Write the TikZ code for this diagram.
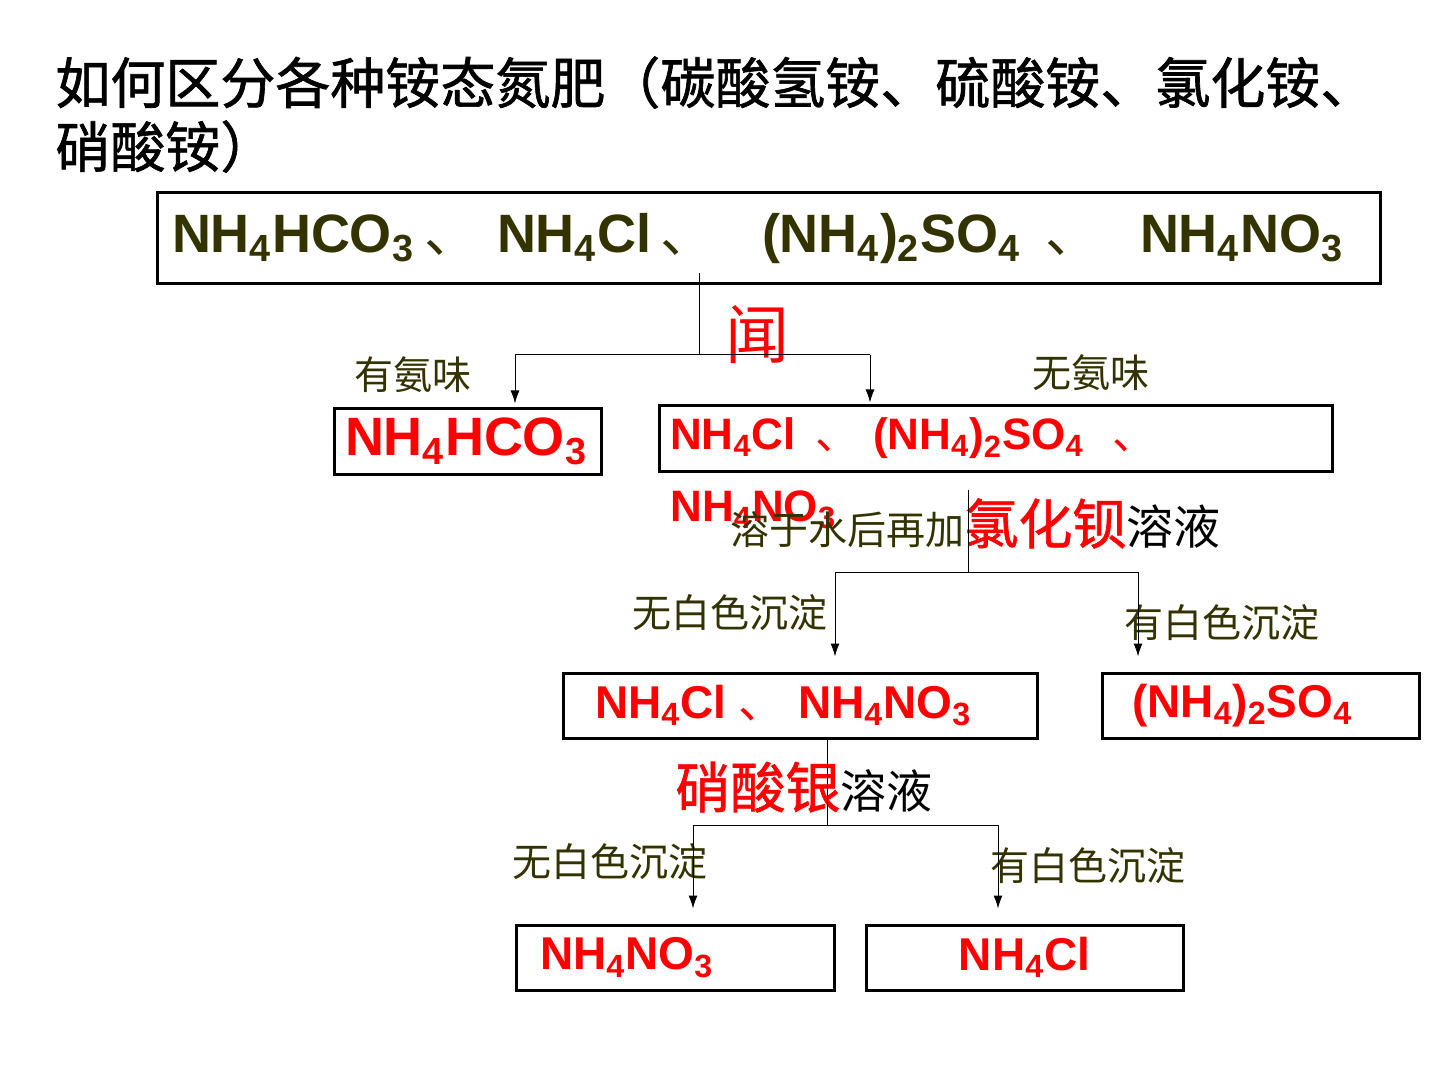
\documentclass[tikz,border=0pt]{standalone}
\usepackage{fontspec}
\setmainfont{Liberation Sans}
\newfontfamily\cjk{Noto Sans CJK SC}
\newfontfamily\cjkm[FakeBold=1.2]{Noto Sans CJK SC}
\usetikzlibrary{arrows.meta}
\definecolor{darkolive}{RGB}{51,51,0}
\newcommand{\nh}{NH\textsubscript{4}}
\newcommand{\dun}{{\cjk\mdseries 、}}
\newcommand{\fs}[1]{\fontsize{#1}{1.2\dimexpr #1pt\relax}\selectfont}
\tikzstyle{box}=[draw, rectangle, line width=1.5pt, inner ysep=0pt,
                 minimum height=32.5pt, align=left, text=red]
\tikzstyle{wire}=[line width=0.5pt]
\tikzstyle{arr}=[wire, -{Latex[length=6.5pt,width=4.5pt]}, shorten >=7.5pt]
\tikzstyle{tag}=[inner sep=0pt, text=darkolive, font=\cjk\fs{19.5}]

\begin{document}
\begin{tikzpicture}[x=0.5pt, y=-0.5pt]
  \useasboundingbox[fill=white] (0,0) rectangle (1440,1080);

  \node[anchor=north west, inner sep=0pt, align=left, font=\cjkm\fs{27.5}]
    (title) at (55,56)
    {如何区分各种铵态氮肥（碳酸氢铵、硫酸铵、氯化铵、\\[-1pt]硝酸铵）};

  \node[box, text=darkolive, font=\bfseries\fs{27}, minimum height=45.5pt,
        text width=596.5pt, inner xsep=7.5pt] (mix4) at (768.5,238.5)
    {\makebox[126pt][l]{\nh HCO\textsubscript{3}}\makebox[36.5pt][l]{\dun}%
     \makebox[81.5pt][l]{\nh Cl}\makebox[51pt][l]{\dun}%
     \makebox[141.5pt][l]{(\nh)\textsubscript{2}SO\textsubscript{4}}%
     \makebox[47.5pt][l]{\dun}\nh NO\textsubscript{3}};

  \node[box, font=\bfseries\fs{27}, text width=122.5pt, inner xsep=5.5pt]
    (hco3) at (467.5,441.5) {\nh HCO\textsubscript{3}};
  \node[box, font=\bfseries\fs{22}, text width=325.5pt, inner xsep=5.5pt]
    (mix3) at (995.5,438.5)
    {\makebox[72.5pt][l]{\nh Cl}\makebox[29pt][l]{\dun}%
     \makebox[119.5pt][l]{(\nh)\textsubscript{2}SO\textsubscript{4}}\dun};
  \node[anchor=west, inner sep=0pt, text=red, font=\bfseries\fs{22}]
    (mix3b) at (670,510) {\nh NO\textsubscript{3}};

  \node[box, font=\bfseries\fs{23}, text width=205pt, inner xsep=16pt]
    (mix2) at (800,705.5)
    {\makebox[71.5pt][l]{\nh Cl}\makebox[30pt][l]{\dun}\nh NO\textsubscript{3}};
  \node[box, font=\bfseries\fs{23}, text width=128.5pt, inner xsep=15pt]
    (so4) at (1260.5,705.5) {(\nh)\textsubscript{2}SO\textsubscript{4}};
  \node[box, font=\bfseries\fs{23}, text width=135pt, inner xsep=12pt]
    (no3) at (675,957.5) {\nh NO\textsubscript{3}};
  \node[box, font=\bfseries\fs{23}, text width=148.5pt, inner xsep=5pt, align=center]
    (cl) at (1024.5,957.5) {\nh Cl};

  \node[inner sep=0pt, text=red, font=\cjk\fs{32}] (smell) at (757,335) {闻};
  \node[tag] (yes1) at (413,375) {有氨味};
  \node[tag] (no1) at (1091,373) {无氨味};
  \node[anchor=base west, inner sep=0pt, font=\cjk] (bacl) at (730,544)
    {{\color{darkolive}\fs{19.5}溶于水后再加}{\cjkm\color{red}\fs{27}氯化钡}{\fs{23.5}溶液}};
  \node[tag] (no2) at (730,613) {无白色沉淀};
  \node[tag] (yes2) at (1222,623) {有白色沉淀};
  \node[anchor=base west, inner sep=0pt, font=\cjk] (agno3) at (675,808)
    {{\cjkm\color{red}\fs{27.5}硝酸银}{\fs{23}溶液}};
  \node[tag] (no3t) at (610,862) {无白色沉淀};
  \node[tag] (yes3) at (1088,866) {有白色沉淀};

  \coordinate (f1) at (699,355);
  \coordinate (a1) at (515,355);
  \coordinate (b1) at (870,355);
  \draw[wire, shorten <=-6pt] (mix4.south -| f1) -- (f1);
  \draw[wire] (a1) -- (b1);
  \draw[arr, shorten >=2pt] (a1) -- (hco3.north -| a1);
  \draw[arr, shorten >=1pt] (b1) -- (mix3.north -| b1);

  \coordinate (f2) at (968,572);
  \coordinate (a2) at (835,572);
  \coordinate (b2) at (1138,572);
  \draw[wire, shorten <=8.5pt] (mix3.south -| f2) -- (f2);
  \draw[wire] (a2) -- (b2);
  \draw[arr] (a2) -- (mix2.north -| a2);
  \draw[arr] (b2) -- (so4.north -| b2);

  \coordinate (f3) at (827,825);
  \coordinate (a3) at (693,825);
  \coordinate (b3) at (998,825);
  \draw[wire] (mix2.south -| f3) -- (f3);
  \draw[wire] (a3) -- (b3);
  \draw[arr] (a3) -- (no3.north -| a3);
  \draw[arr] (b3) -- (cl.north -| b3);
\end{tikzpicture}
\end{document}
